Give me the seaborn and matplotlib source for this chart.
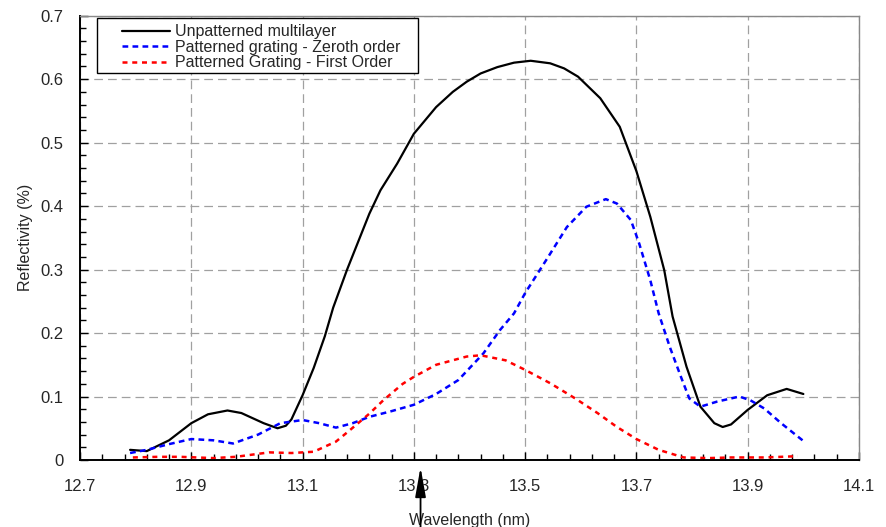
import matplotlib
matplotlib.use("Agg")
import matplotlib.pyplot as plt
import matplotlib.patches as mpatches
from matplotlib.ticker import MultipleLocator
import seaborn as sns

# values
wl_multilayer = [12.79, 12.82, 12.86, 12.90, 12.93, 12.965, 12.99, 13.01, 13.03, 13.055, 13.07,
                 13.08, 13.10, 13.12, 13.14, 13.155, 13.18, 13.22, 13.24, 13.27, 13.30, 13.34,
                 13.37, 13.395, 13.42, 13.45, 13.48, 13.51, 13.545, 13.57, 13.595, 13.635, 13.67,
                 13.70, 13.725, 13.75, 13.765, 13.79, 13.815, 13.84, 13.855, 13.87, 13.90, 13.935,
                 13.97, 14.00]
r_multilayer = [0.016, 0.014, 0.031, 0.058, 0.072, 0.078, 0.074, 0.066, 0.058, 0.050, 0.054,
                0.064, 0.102, 0.145, 0.195, 0.240, 0.300, 0.388, 0.425, 0.467, 0.514, 0.556,
                0.580, 0.596, 0.609, 0.619, 0.626, 0.629, 0.625, 0.617, 0.604, 0.570, 0.525,
                0.455, 0.383, 0.299, 0.226, 0.147, 0.084, 0.058, 0.052, 0.056, 0.079, 0.102,
                0.112, 0.104]

wl_zeroth = [12.79, 12.82, 12.86, 12.90, 12.94, 12.975, 13.02, 13.06, 13.10, 13.13, 13.16,
             13.19, 13.22, 13.26, 13.30, 13.34, 13.38, 13.425, 13.455, 13.48, 13.50, 13.54,
             13.575, 13.61, 13.645, 13.665, 13.69, 13.705, 13.725, 13.74, 13.76, 13.78, 13.795,
             13.815, 13.845, 13.885, 13.905, 13.93, 13.96, 13.99, 14.00]
r_zeroth = [0.011, 0.016, 0.025, 0.033, 0.031, 0.026, 0.040, 0.058, 0.063, 0.058, 0.051,
            0.058, 0.068, 0.077, 0.087, 0.104, 0.126, 0.168, 0.205, 0.231, 0.263, 0.318,
            0.367, 0.399, 0.411, 0.404, 0.378, 0.341, 0.283, 0.231, 0.178, 0.131, 0.097,
            0.084, 0.092, 0.100, 0.094, 0.081, 0.058, 0.037, 0.030]

wl_first = [12.795, 12.84, 12.88, 12.94, 12.98, 13.04, 13.08, 13.12, 13.16, 13.185, 13.22,
            13.245, 13.28, 13.30, 13.34, 13.395, 13.42, 13.465, 13.50, 13.545, 13.59, 13.63,
            13.665, 13.70, 13.74, 13.785, 13.83, 13.87, 13.93, 13.99]
r_first = [0.004, 0.005, 0.005, 0.003, 0.005, 0.012, 0.011, 0.013, 0.029, 0.047, 0.073,
           0.094, 0.120, 0.131, 0.150, 0.163, 0.165, 0.157, 0.142, 0.121, 0.097, 0.074,
           0.052, 0.033, 0.016, 0.004, 0.003, 0.004, 0.004, 0.006]

labels = ["Unpatterned multilayer", "Patterned grating - Zeroth order",
          "Patterned Grating - First Order"]
arrow_wl = 13.312

sns.set_style("white")
plt.rcParams["font.family"] = ["Liberation Sans", "DejaVu Sans"]

fig = plt.figure(figsize=(8.87, 5.27), dpi=100)
ax = fig.add_axes([80 / 887, 1 - 460 / 527, 779 / 887, 444.3 / 527])

sns.lineplot(x=wl_multilayer, y=r_multilayer, ax=ax, color="black", lw=1.6,
             sort=False, label=labels[0])
sns.lineplot(x=wl_zeroth, y=r_zeroth, ax=ax, color="#0000ff", lw=1.8,
             linestyle=(0, (2.3, 1.7)), sort=False, label=labels[1])
sns.lineplot(x=wl_first, y=r_first, ax=ax, color="#ff0000", lw=1.8,
             linestyle=(0, (2.0, 1.9)), sort=False, label=labels[2])

ax.set_xlim(12.7, 14.1)
ax.set_ylim(0, 0.7)
# ticks start at 12.7, so shift the locators off the round multiples
ax.xaxis.set_major_locator(MultipleLocator(0.2, offset=0.1))
ax.xaxis.set_minor_locator(MultipleLocator(0.04, offset=0.02))
ax.yaxis.set_major_locator(MultipleLocator(0.1))
ax.yaxis.set_minor_locator(MultipleLocator(0.02))
ax.xaxis.set_major_formatter(lambda v, p: f"{v:.1f}")
ax.yaxis.set_major_formatter(lambda v, p: "0" if abs(v) < 1e-9 else f"{v:.1f}")

ax.grid(True, which="major", color="#a0a0a0", lw=0.9, linestyle=(0, (7, 4)))
ax.tick_params(which="major", direction="in", length=6, width=1, color="black",
               labelsize=12, bottom=True, left=True)
ax.tick_params(axis="x", which="major", pad=14)
ax.tick_params(axis="y", which="major", pad=12)
ax.tick_params(which="minor", direction="in", length=4, width=1, color="black",
               bottom=True, left=True)

for side in ["left", "bottom"]:
    ax.spines[side].set_color("black")
    ax.spines[side].set_linewidth(1.4)
for side in ["top", "right"]:
    ax.spines[side].set_color("#888888")
    ax.spines[side].set_linewidth(1.0)

ax.set_xlabel("Wavelength (nm)", fontsize=11.5, labelpad=13)
ax.set_ylabel("Reflectivity (%)", fontsize=11.5, labelpad=5)

# legend without its own frame, box drawn separately to match the layout
leg = ax.legend(loc="upper left", bbox_to_anchor=(0.0535, 0.981), frameon=False,
                fontsize=11.5, handlelength=3.0, handletextpad=0.35,
                labelspacing=0.03, borderpad=0, borderaxespad=0)
box = mpatches.Rectangle((0.0218, 0.8717), 0.4122, 0.1223, transform=ax.transAxes,
                         fill=True, facecolor="white", edgecolor="black", lw=1.0,
                         zorder=4)
ax.add_patch(box)
leg.set_zorder(5)

ax.annotate("", xy=(arrow_wl, -0.016), xycoords=("data", "axes fraction"),
            xytext=(arrow_wl, -0.16), textcoords=("data", "axes fraction"),
            arrowprops=dict(arrowstyle="-|>,head_length=0.9,head_width=0.16",
                            color="black", lw=1.3, mutation_scale=20, shrinkA=0, shrinkB=0),
            annotation_clip=False, zorder=10)

fig.savefig("out.png", dpi=100)
